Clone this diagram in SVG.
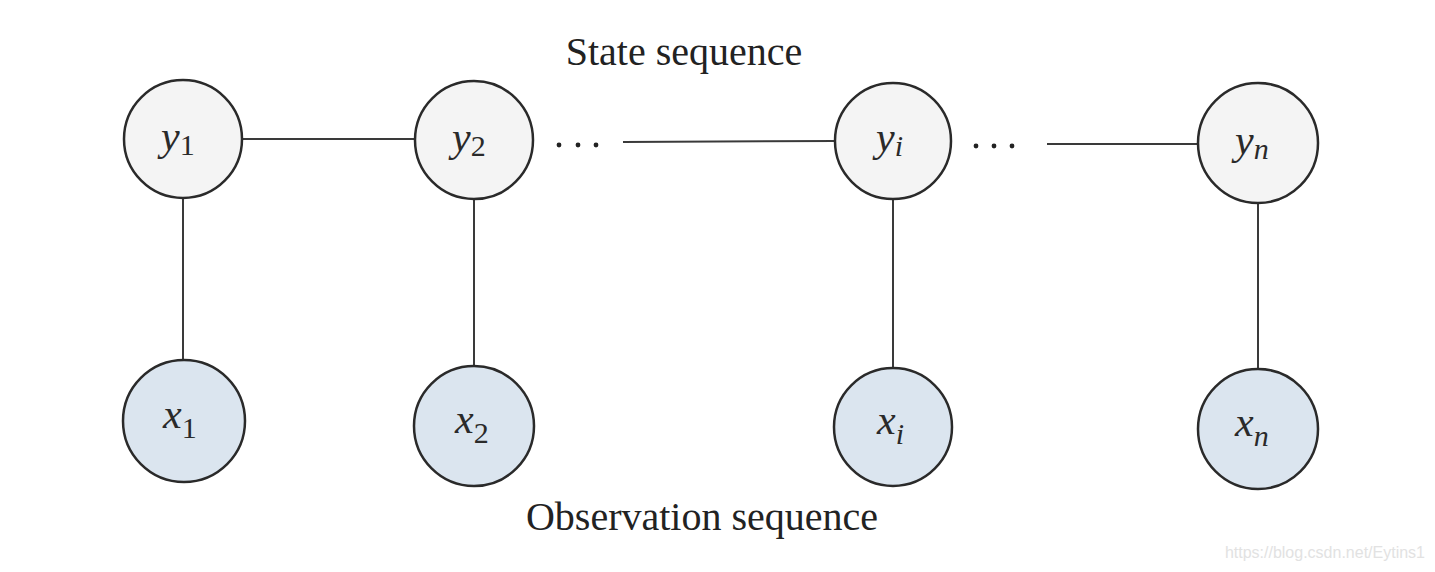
<svg xmlns="http://www.w3.org/2000/svg" width="1435" height="572" viewBox="0 0 1435 572">
<style>
.s{fill:#f4f4f4;stroke:#2a2a2a;stroke-width:2.5}
.o{fill:#dbe5ef;stroke:#2a2a2a;stroke-width:2.5}
.l{stroke:#3a3a3a;stroke-width:2;fill:none}
.v{font-family:"Liberation Serif",serif;font-style:italic;font-size:42px;fill:#2a2a2a}
.sub{font-style:normal;font-size:30px}
.subi{font-style:italic;font-size:30px}
.t{font-family:"Liberation Serif",serif;font-size:40px;fill:#222}
.dot{fill:#222}
.w{font-family:"Liberation Sans",sans-serif;font-size:16px;fill:#e2e2e2}
</style>
<rect width="1435" height="572" fill="#fff"/>
<text class="t" x="684" y="65" text-anchor="middle">State sequence</text>
<text class="t" x="702" y="530" text-anchor="middle">Observation sequence</text>
<g id="connectors">
<line class="l" x1="242" y1="139" x2="415" y2="139"/>
<line class="l" x1="623" y1="142" x2="835" y2="141"/>
<line class="l" x1="1047" y1="144" x2="1198" y2="144"/>
<line class="l" x1="183" y1="198" x2="183" y2="360"/>
<line class="l" x1="474" y1="199" x2="474" y2="366"/>
<line class="l" x1="893" y1="199" x2="893" y2="368"/>
<line class="l" x1="1258" y1="203" x2="1258" y2="368"/>
</g>
<g class="dot">
<circle cx="559" cy="145" r="2.4"/><circle cx="578" cy="145" r="2.4"/><circle cx="596" cy="145" r="2.4"/>
<circle cx="976" cy="146" r="2.4"/><circle cx="994" cy="146" r="2.4"/><circle cx="1012" cy="146" r="2.4"/>
</g>
<g id="y1"><circle class="s" cx="183" cy="139" r="59"/><text class="v" x="161" y="150">y<tspan class="sub" dy="5">1</tspan></text></g>
<g id="y2"><circle class="s" cx="474" cy="140" r="59"/><text class="v" x="452" y="151">y<tspan class="sub" dy="5">2</tspan></text></g>
<g id="yi"><circle class="s" cx="893" cy="141" r="58"/><text class="v" x="876" y="151">y<tspan class="subi" dy="5">i</tspan></text></g>
<g id="yn"><circle class="s" cx="1258" cy="143" r="60"/><text class="v" x="1235" y="154">y<tspan class="subi" dy="5">n</tspan></text></g>
<g id="x1"><circle class="o" cx="184" cy="421" r="61"/><text class="v" x="163" y="428">x<tspan class="sub" dy="10">1</tspan></text></g>
<g id="x2"><circle class="o" cx="474" cy="426" r="60"/><text class="v" x="455" y="433">x<tspan class="sub" dy="10">2</tspan></text></g>
<g id="xi"><circle class="o" cx="893" cy="427" r="59"/><text class="v" x="877" y="434">x<tspan class="subi" dy="10">i</tspan></text></g>
<g id="xn"><circle class="o" cx="1258" cy="429" r="60"/><text class="v" x="1235" y="436">x<tspan class="subi" dy="10">n</tspan></text></g>
<text class="w" x="1425" y="558" text-anchor="end">https://blog.csdn.net/Eytins1</text>
</svg>
